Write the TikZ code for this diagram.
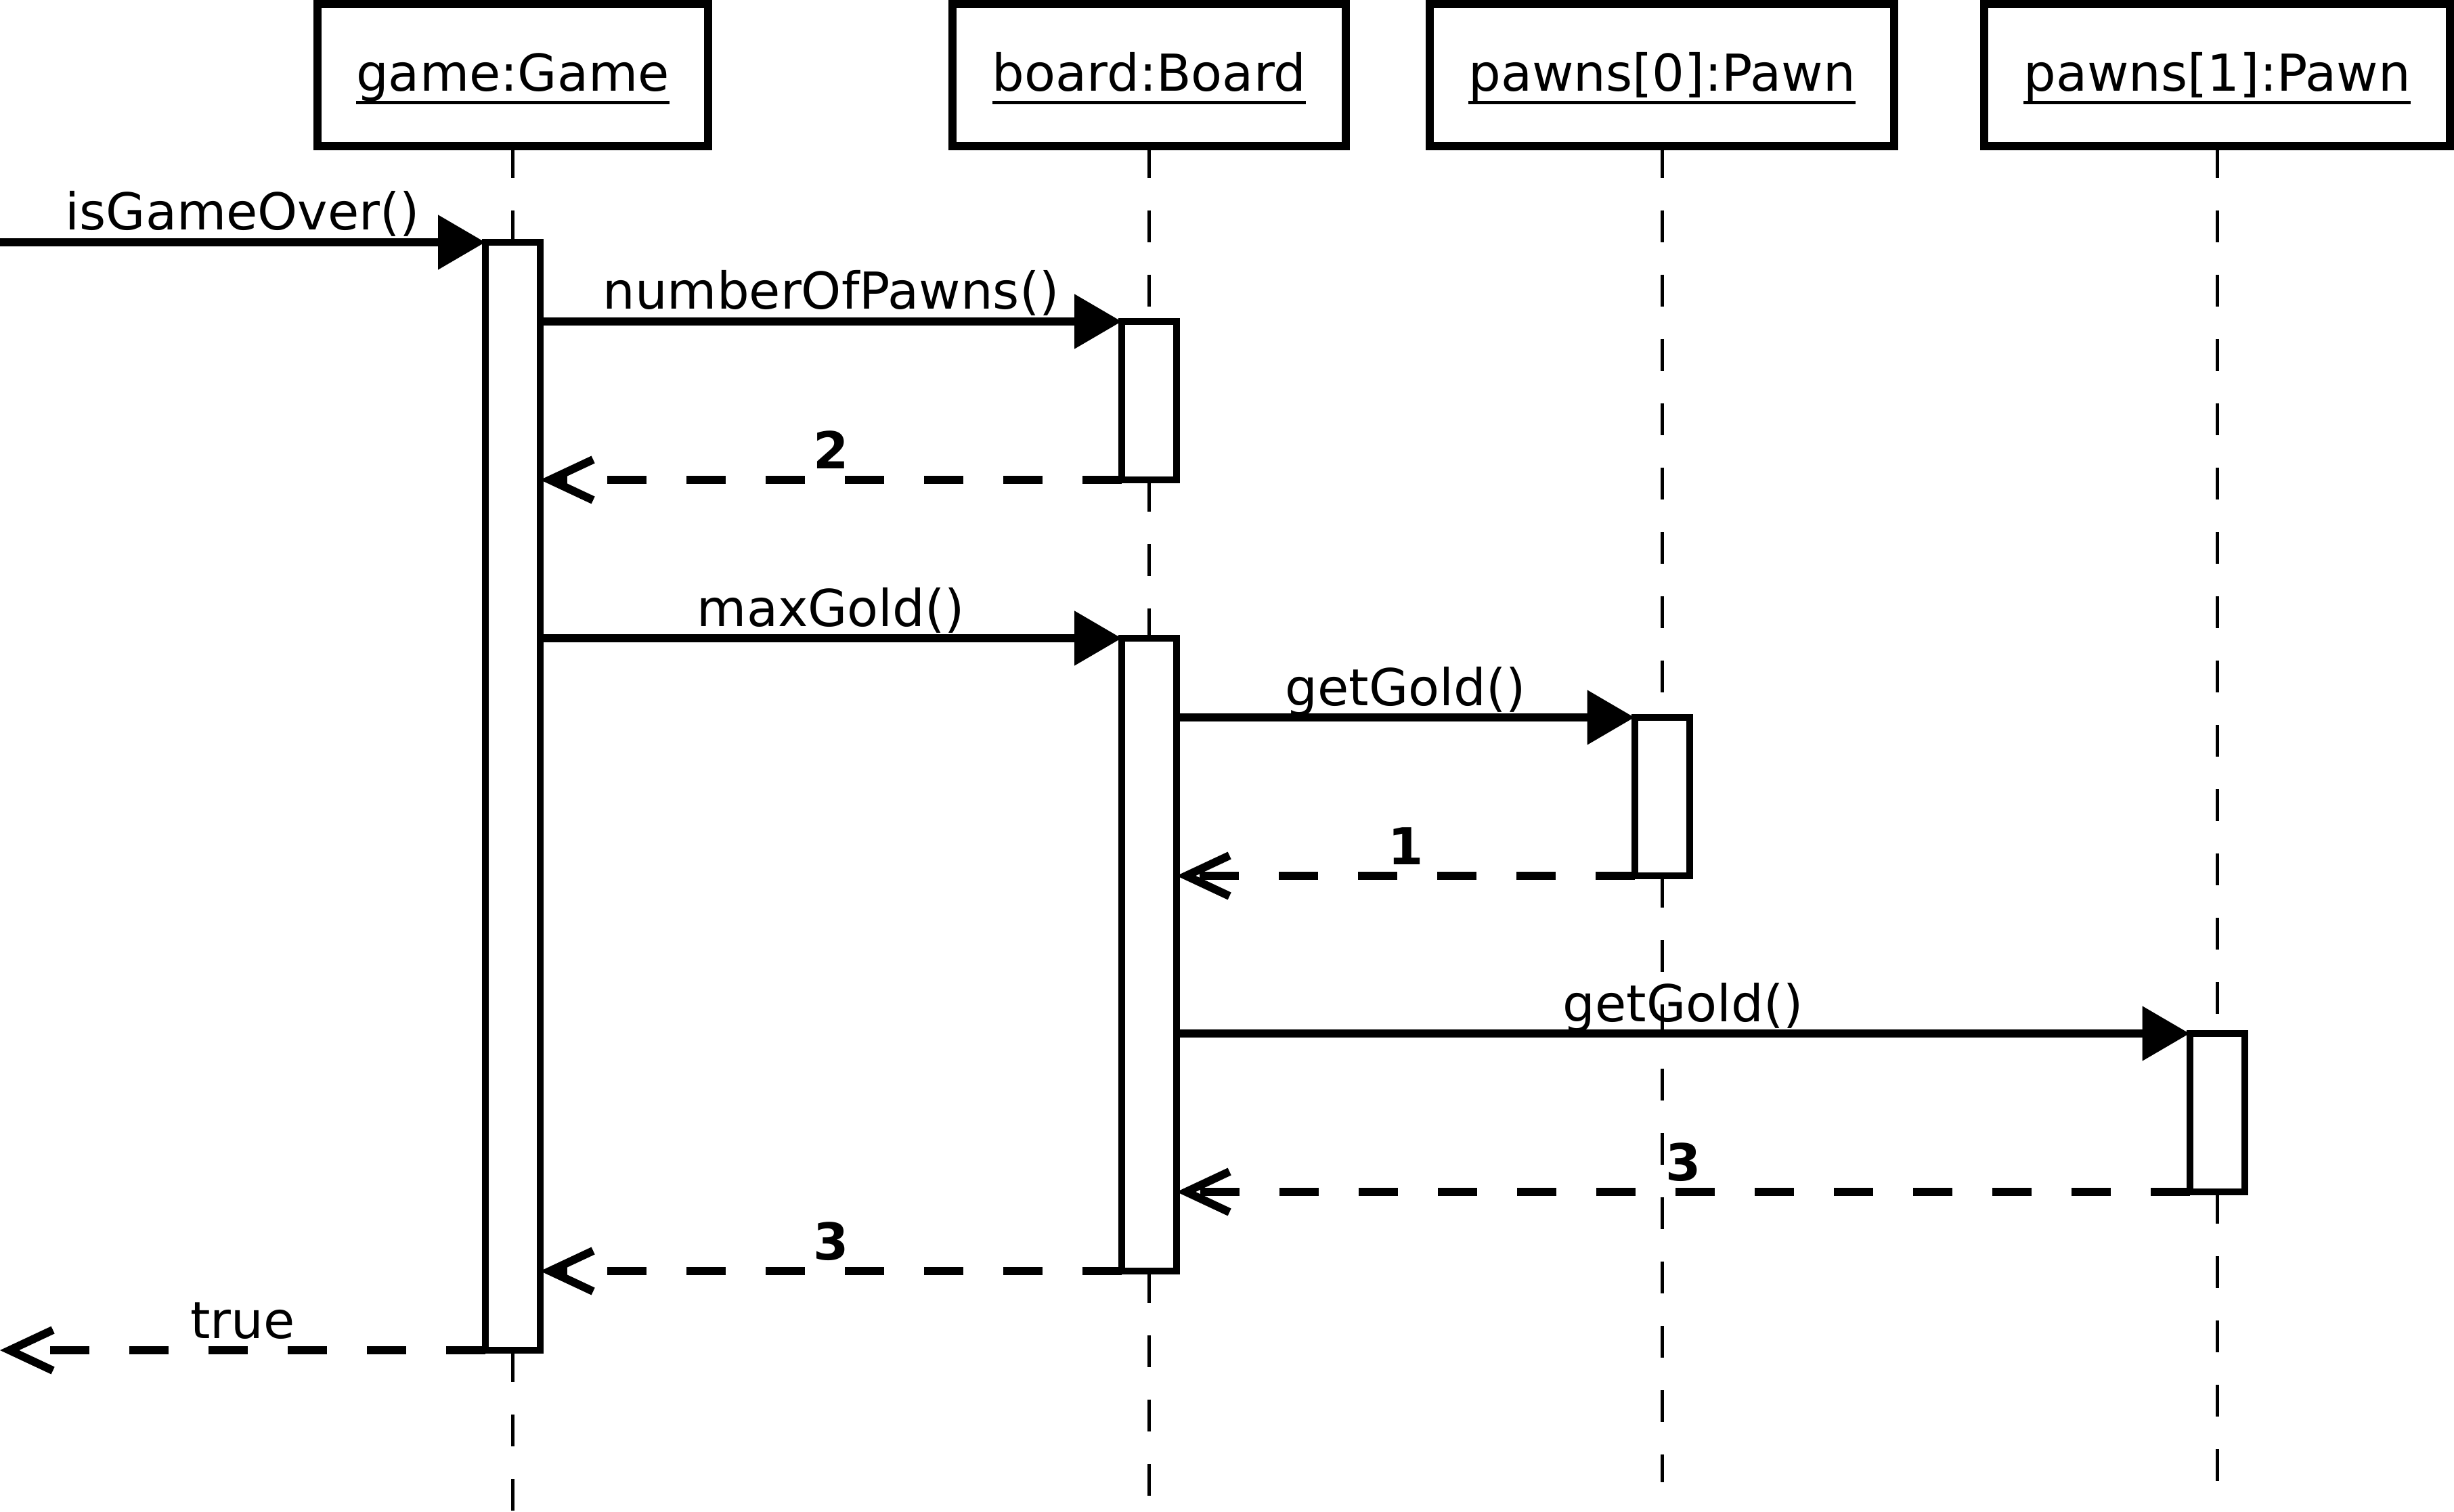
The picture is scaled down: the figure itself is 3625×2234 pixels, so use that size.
\documentclass[tikz,border=0pt]{standalone}
\usepackage{fontspec}
\setmainfont{DejaVu Sans}
\usetikzlibrary{arrows.meta,calc}
\begin{document}
\begin{tikzpicture}[x=0.25pt,y=-0.25pt,
  every node/.style={font=\fontsize{18.8pt}{22pt}\selectfont},
  objbox/.style={draw,line width=3pt,fill=white,inner sep=0pt,outer sep=0pt,minimum height=52.5pt},
  objlabel/.style={anchor=base,inner xsep=0pt,inner ysep=0pt,outer sep=0pt},
  uline/.style={line width=1.25pt},
  lifeline/.style={line width=1.25pt,dash pattern=on 11.75pt off 12pt},
  act/.style={draw,line width=2.5pt,fill=white,inner sep=0pt,outer sep=0pt,minimum width=20.25pt,anchor=north},
  call/.style={line width=3pt,-{Triangle[length=17.5pt,width=19.5pt]}},
  ret/.style={line width=3pt,dash pattern=on 14.5pt off 14.75pt,-{Straight Barb[length=16pt,width=15pt,sharp]}},
  msg/.style={midway,anchor=base,yshift=4.5pt,inner sep=0pt},
  rlab/.style={midway,anchor=base,yshift=4.25pt,inner sep=0pt,font=\fontsize{18.8pt}{22pt}\selectfont\bfseries}
]
\fill[white] (0,0) rectangle (3625,2234);
\useasboundingbox (0,0) rectangle (3625,2234);

% lifeline end points
\coordinate (gameEnd) at (757.5,2234);
\coordinate (boardEnd) at (1697.5,2212);
\coordinate (p0End) at (2455,2190);
\coordinate (p1End) at (3275,2190);

% object boxes
\node[objbox,minimum width=144.25pt] (game) at (757.5,111) {};
\node[objbox,minimum width=145.25pt] (board) at (1697.5,111) {};
\node[objbox,minimum width=171.5pt] (p0) at (2455,111) {};
\node[objbox,minimum width=172pt] (p1) at (3275,111) {};

% object labels
\node[objlabel] (gameL) at (757.5,135) {game:Game};
\node[objlabel] (boardL) at (1697.5,135) {board:Board};
\node[objlabel] (p0L) at (2455,135) {pawns[0]:Pawn};
\node[objlabel] (p1L) at (3275,135) {pawns[1]:Pawn};
\foreach \n in {gameL,boardL,p0L,p1L}
  \draw[uline] ([yshift=-4.25pt]\n.base west) -- ([yshift=-4.25pt]\n.base east);

% activations
\node[act,minimum height=409.25pt] (actG) at (757.5,358) {};
\node[act,minimum height=58.5pt] (actB1) at (1697.5,475) {};
\node[act,minimum height=233.75pt] (actB2) at (1697.5,943) {};
\node[act,minimum height=58.5pt] (actP0) at (2455,1060) {};
\node[act,minimum height=58.5pt] (actP1) at (3275,1527) {};

% lifelines (segments between activations)
\draw[lifeline] (game.south) -- (actG.north);
\draw[lifeline] (actG.south) -- (gameEnd);
\draw[lifeline] (board.south) -- (actB1.north);
\draw[lifeline] (actB1.south) -- (actB2.north);
\draw[lifeline] (actB2.south) -- (boardEnd);
\draw[lifeline] (p0.south) -- (actP0.north);
\draw[lifeline] (actP0.south) -- (p0End);
\draw[lifeline] (p1.south) -- (actP1.north);
\draw[lifeline] (actP1.south) -- (p1End);

% free ends
\coordinate (start) at (0,358);
\coordinate (finish) at (0,1995);

% messages
\draw[call] (start) -- (actG.north west) node[msg] {isGameOver()};
\draw[call] (actG.east |- actB1.north) -- (actB1.north west) node[msg] {numberOfPawns()};
\draw[ret] (actB1.south west) -- (actG.east |- actB1.south) node[rlab] {2};
\draw[call] (actG.east |- actB2.north) -- (actB2.north west) node[msg] {maxGold()};
\draw[call] (actB2.east |- actP0.north) -- (actP0.north west) node[msg] {getGold()};
\draw[ret] (actP0.south west) -- (actB2.east |- actP0.south) node[rlab] {1};
\draw[call] (actB2.east |- actP1.north) -- (actP1.north west) node[msg] {getGold()};
\draw[ret] (actP1.south west) -- (actB2.east |- actP1.south) node[rlab] {3};
\draw[ret] (actB2.south west) -- (actG.east |- actB2.south) node[rlab] {3};
\draw[ret] (actG.south west) -- (finish) node[msg] {true};
\end{tikzpicture}
\end{document}
